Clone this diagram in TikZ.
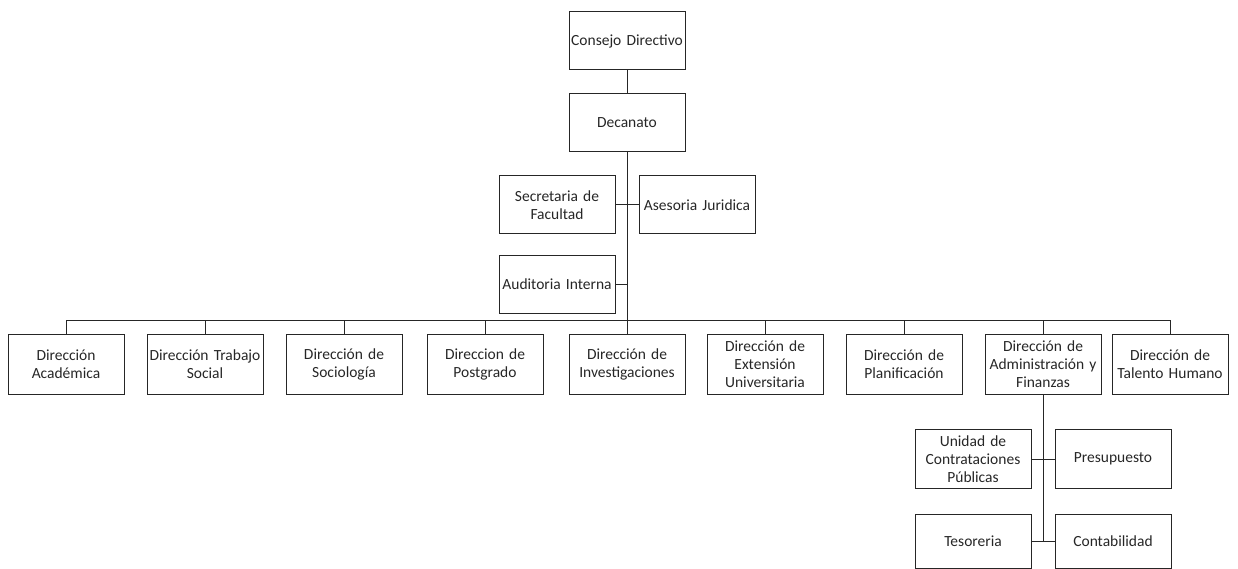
\documentclass[tikz,border=0pt]{standalone}
\usepackage{fontspec}
\setmainfont{Carlito}
\begin{document}
\begin{tikzpicture}[x=1pt,y=-1pt,
  box/.style={draw=black!85,line width=1pt,rectangle,minimum width=116pt,minimum height=58pt,
    align=center,text width=114pt,inner sep=1pt,font=\fontsize{15.5}{18}\selectfont,text=black!85},
  conn/.style={draw=black!85,line width=1pt}]
\useasboundingbox (0,0) rectangle (1238,569);
% top
\node[box] (cons) at (627,41) {Consejo Directivo};
\node[box] (dec) at (627,123) {Decanato};
\node[box] (sec) at (557,205) {Secretaria de\\Facultad};
\node[box] (ases) at (697,205) {Asesoria Juridica};
\node[box] (aud) at (557,284) {Auditoria Interna};
\coordinate (bus) at (627,320);
\coordinate (audj) at (627,284);
% row
\node[box,minimum height=60pt] (r1) at (66,364) {Dirección\\Académica};
\node[box,minimum height=60pt] (r2) at (205,364) {Dirección Trabajo\\Social};
\node[box,minimum height=60pt] (r3) at (344,364) {Dirección de\\Sociología};
\node[box,minimum height=60pt] (r4) at (485,364) {Direccion de\\Postgrado};
\node[box,minimum height=60pt] (r5) at (627,364) {Dirección de\\Investigaciones};
\node[box,minimum height=60pt] (r6) at (765,364) {Dirección de\\Extensión\\Universitaria};
\node[box,minimum height=60pt] (r7) at (904,364) {Dirección de\\Planificación};
\node[box,minimum height=60pt] (r8) at (1043,364) {Dirección de\\Administración y\\Finanzas};
\node[box,minimum height=60pt] (r9) at (1170,364) {Dirección de\\Talento Humano};
% sub
\node[box,minimum height=59pt] (ucp) at (973,459) {Unidad de\\Contrataciones\\Públicas};
\node[box,minimum height=59pt] (pres) at (1113,459) {Presupuesto};
\node[box,minimum height=54pt] (tes) at (973,541) {Tesoreria};
\node[box,minimum height=54pt] (cont) at (1113,541) {Contabilidad};
\coordinate (aend) at (1043,541);
% connectors
\draw[conn] (cons.south) -- (dec.north);
\draw[conn] (dec.south) -- (bus);
\draw[conn] (sec.east) -- (ases.west);
\draw[conn] (aud.east) -- (audj);
\foreach \n in {r1,r2,r3,r4,r5,r6,r7,r8,r9} {\draw[conn] (\n.north) |- (bus);}
\draw[conn] (r8.south) -- (aend);
\draw[conn] (ucp.east) -- (pres.west);
\draw[conn] (tes.east) -- (cont.west);
\end{tikzpicture}
\end{document}
